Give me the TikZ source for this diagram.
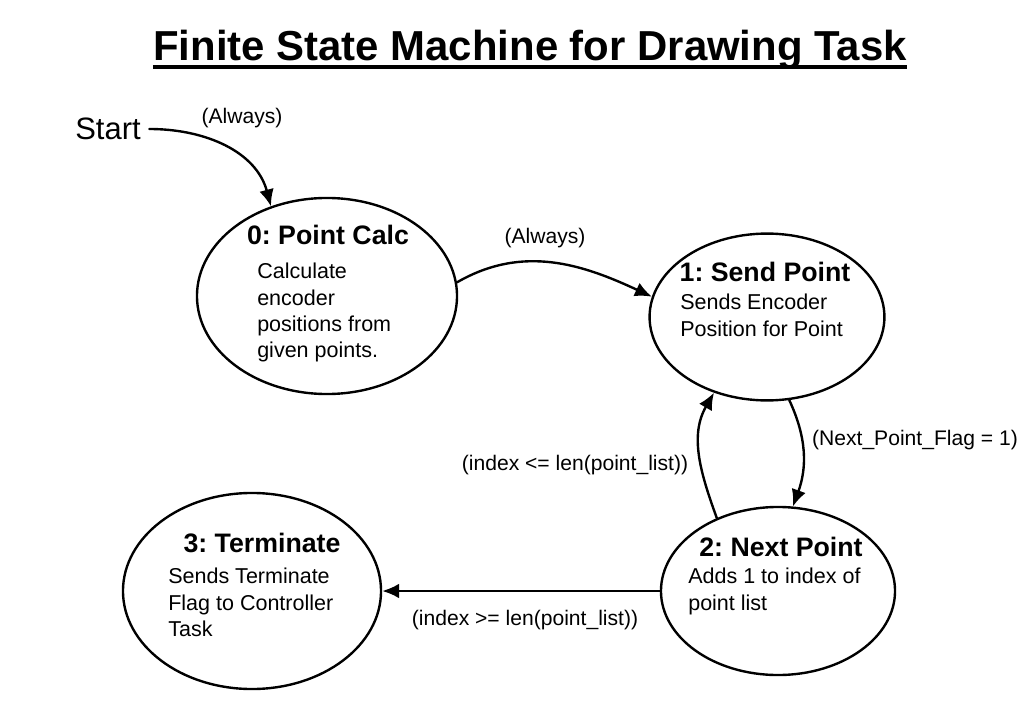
\documentclass[tikz,border=0pt]{standalone}
\usepackage{fontspec}
\setmainfont{Liberation Sans}
\usetikzlibrary{arrows.meta,shapes.geometric}
\frenchspacing

\tikzset{
  state/.style={draw,ellipse,line width=1.7pt,inner sep=0pt},
  head/.style={font=\bfseries\fontsize{19}{22}\selectfont},
  body/.style={font=\fontsize{15.3}{18.6}\selectfont,align=left,anchor=north west},
  lbl/.style={font=\fontsize{15}{18}\selectfont},
  edge/.style={->,line width=1.7pt}
}

\begin{document}
\begin{tikzpicture}[x=0.025cm,y=-0.025cm,line cap=round,line join=round,>={Latex[length=12pt,width=10.5pt]},every node/.style={inner sep=0pt}]
  \useasboundingbox (0,0) rectangle (1033,709);
  % title
  \node[font=\bfseries\fontsize{29.8}{34}\selectfont,anchor=base] (title) at (530,61) {Finite State Machine for Drawing Task};
  \draw[line width=2.8pt,line cap=butt] ([yshift=-4pt]title.base west) -- ([yshift=-4pt]title.base east);
  % states
  \node[state,minimum width=6.5cm,minimum height=4.9cm] (s0) at (327,296) {};
  \node[state,minimum width=5.87cm,minimum height=4.17cm] (s1) at (767,317) {};
  \node[state,minimum width=5.85cm,minimum height=4.2cm] (s2) at (778,591) {};
  \node[state,minimum width=6.45cm,minimum height=4.9cm] (s3) at (252,591) {};
  \node[head] (h0) at (328,235) {0: Point Calc};
  \node[head] (h1) at (765,272) {1: Send Point};
  \node[head] (h2) at (781,547) {2: Next Point};
  \node[head] (h3) at (262,543) {3: Terminate};
  \node[body] (b0) at (257,263) {Calculate\\encoder\\positions from\\given points.};
  \node[body] (b1) at (680,294) {Sends Encoder\\Position for Point};
  \node[body] (b2) at (688,568) {Adds 1 to index of\\point list};
  \node[body] (b3) at (168,568) {Sends Terminate\\Flag to Controller\\Task};
  % start
  \node[font=\fontsize{22}{26}\selectfont,inner sep=6pt] (start) at (108,129) {Start};
  % transitions
  \draw[edge] (start.east) to[out=0,in=105] (s0.122);
  \draw[edge] (s0.6) to[out=30,in=155] (s1.170);
  \draw[edge] (s1.-75) to[out=-65,in=70] (s2.80);
  \draw[edge] (s2.130) to[out=110,in=-120] (s1.-125);
  \draw[edge] (s2.west) -- (s3.east);
  % transition labels
  \node[lbl] (l00) at (242,118) {(Always)};
  \node[lbl] (l01) at (545,238) {(Always)};
  \node[lbl] (l12) at (915,440) {(Next\_Point\_Flag = 1)};
  \node[lbl] (l21) at (575,465) {(index <= len(point\_list))};
  \node[lbl] (l23) at (525,620) {(index >= len(point\_list))};
\end{tikzpicture}
\end{document}
